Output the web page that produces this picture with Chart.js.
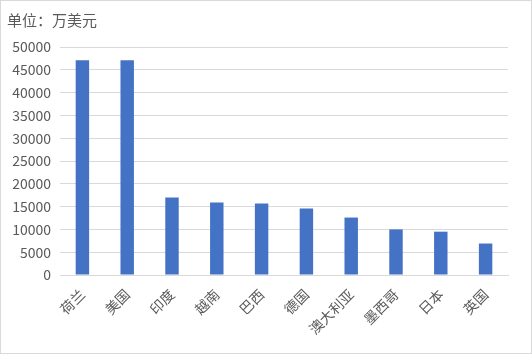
<!DOCTYPE html>
<html><head><meta charset="utf-8">
<script src="https://cdn.jsdelivr.net/npm/chart.js@4.4.0/dist/chart.umd.min.js"></script>
<style>
html,body{margin:0;padding:0;background:#fff;}
#wrap{position:relative;width:530px;height:352px;border:1px solid #d9d9d9;}
canvas{display:block;}
</style></head>
<body>
<div id="wrap"><canvas id="c" width="530" height="352"></canvas></div>
<script>
const categories = ["荷兰","美国","印度","越南","巴西","德国","澳大利亚","墨西哥","日本","英国"];
const values = [47100, 47100, 17000, 15900, 15700, 14600, 12600, 10000, 9500, 6900];
const unitLabel = "单位：万美元";
const yMax = 50000;
const yStep = 5000;

const font = "'Noto Sans CJK SC', 'Microsoft YaHei', sans-serif";
const unitTitle = {
  id: 'unitTitle',
  afterDraw(chart) {
    const ctx = chart.ctx;
    ctx.save();
    ctx.font = "15px " + font;
    ctx.fillStyle = '#595959';
    ctx.textAlign = 'left';
    ctx.textBaseline = 'middle';
    ctx.fillText(unitLabel, 6, 19);
    ctx.restore();
  }
};
new Chart(document.getElementById('c'), {
  type: 'bar',
  data: {
    labels: categories,
    datasets: [{
      data: values,
      backgroundColor: '#4472C4',
      barPercentage: 0.3,
      categoryPercentage: 1.0
    }]
  },
  plugins: [unitTitle],
  options: {
    responsive: false,
    animation: false,
    layout: { padding: { left: 0, right: 23, top: 46, bottom: 0 } },
    plugins: {
      legend: { display: false },
      tooltip: { enabled: false },
      title: { display: false }
    },
    scales: {
      x: {
        grid: { display: false, drawTicks: false },
        border: { display: true, color: '#d9d9d9' },
        ticks: {
          color: '#595959',
          font: { family: font, size: 14 },
          maxRotation: 45, minRotation: 45,
          padding: 11
        },
        afterFit: (a) => { a.height = 78; }
      },
      y: {
        min: 0, max: yMax,
        ticks: {
          stepSize: yStep,
          color: '#595959',
          font: { family: font, size: 14 },
          padding: 9,
          callback: (v) => String(v)
        },
        grid: { color: '#d9d9d9', drawTicks: false },
        border: { display: false },
        afterFit: (a) => { a.width = 59; }
      }
    }
  }
});
</script>
</body></html>
